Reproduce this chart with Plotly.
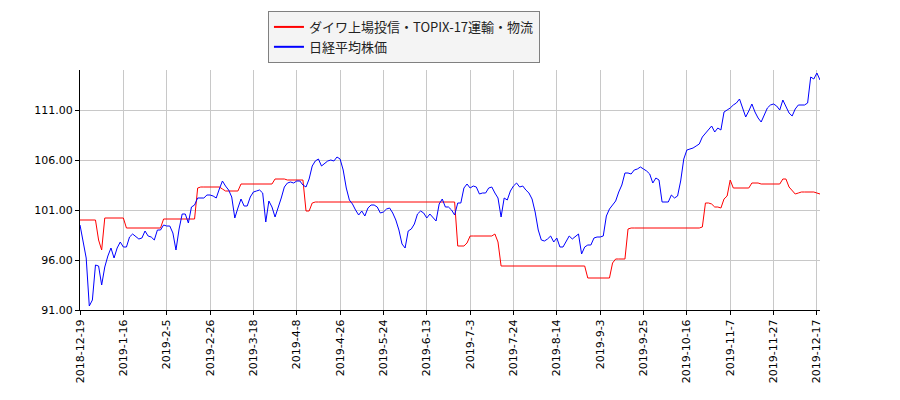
import pandas as pd
import plotly.graph_objs as go

# 東証の休場日 (営業日の並びを作るため)
holidays = ['2018-12-24', '2018-12-31', '2019-01-01', '2019-01-02', '2019-01-03',
            '2019-01-14', '2019-02-11', '2019-03-21', '2019-04-29', '2019-04-30',
            '2019-05-01', '2019-05-02', '2019-05-03', '2019-05-06', '2019-07-15',
            '2019-08-12', '2019-09-16', '2019-09-23', '2019-10-14', '2019-10-22',
            '2019-11-04']

days = pd.bdate_range('2018-12-19', '2019-12-18')
days = [d for d in days if d.strftime('%Y-%m-%d') not in holidays]
dates = [f'{d.year}-{d.month}-{d.day}' for d in days]

name_etf = 'ダイワ上場投信・TOPIX-17運輸・物流'
name_nikkei = '日経平均株価'

etf = [
    100.0, 100.0, 100.0, 100.0, 100.0, 100.0, 98.0, 97.0, 100.2, 100.2,
    100.2, 100.2, 100.2, 100.2, 100.2, 99.2, 99.2, 99.2, 99.2, 99.2,
    99.2, 99.2, 99.2, 99.2, 99.2, 99.2, 99.2, 100.1, 100.1, 100.1,
    100.1, 100.1, 100.1, 100.1, 100.1, 100.1, 100.1, 100.1, 103.2, 103.3,
    103.3, 103.3, 103.3, 103.3, 103.3, 103.3, 103.1, 102.9, 102.9, 102.9,
    102.9, 102.9, 103.6, 103.6, 103.6, 103.6, 103.6, 103.6, 103.6, 103.6,
    103.6, 103.6, 103.6, 104.1, 104.1, 104.1, 104.1, 104.0, 104.0, 104.0,
    104.0, 104.0, 104.0, 100.9, 100.9, 101.7, 101.8, 101.8, 101.8, 101.8,
    101.8, 101.8, 101.8, 101.8, 101.8, 101.8, 101.8, 101.8, 101.8, 101.8,
    101.8, 101.8, 101.8, 101.8, 101.8, 101.8, 101.8, 101.8, 101.8, 101.8,
    101.8, 101.8, 101.8, 101.8, 101.8, 101.8, 101.8, 101.8, 101.8, 101.8,
    101.8, 101.8, 101.8, 101.8, 101.8, 101.8, 101.8, 101.8, 101.8, 101.8,
    101.8, 101.8, 97.4, 97.4, 97.4, 97.7, 98.4, 98.4, 98.4, 98.4,
    98.4, 98.4, 98.4, 98.4, 98.6, 97.8, 95.4, 95.4, 95.4, 95.4,
    95.4, 95.4, 95.4, 95.4, 95.4, 95.4, 95.4, 95.4, 95.4, 95.4,
    95.4, 95.4, 95.4, 95.4, 95.4, 95.4, 95.4, 95.4, 95.4, 95.4,
    95.4, 95.4, 95.4, 95.4, 94.2, 94.2, 94.2, 94.2, 94.2, 94.2,
    94.2, 94.2, 95.7, 96.1, 96.1, 96.1, 96.1, 99.1, 99.2, 99.2,
    99.2, 99.2, 99.2, 99.2, 99.2, 99.2, 99.2, 99.2, 99.2, 99.2,
    99.2, 99.2, 99.2, 99.2, 99.2, 99.2, 99.2, 99.2, 99.2, 99.2,
    99.2, 99.3, 101.7, 101.7, 101.6, 101.3, 101.3, 101.2, 102.1, 102.4,
    104.0, 103.2, 103.2, 103.2, 103.2, 103.2, 103.2, 103.7, 103.7, 103.7,
    103.6, 103.6, 103.6, 103.6, 103.6, 103.6, 103.6, 104.1, 104.1, 103.3,
    102.9, 102.6, 102.7, 102.8, 102.8, 102.8, 102.8, 102.8, 102.7, 102.6,
]

nikkei = [
    99.5, 97.7, 96.2, 91.4, 92.0, 95.5, 95.4, 93.5, 95.3, 96.4,
    97.2, 96.2, 97.2, 97.8, 97.3, 97.3, 98.3, 98.6, 98.3, 98.1,
    98.2, 98.9, 98.4, 98.3, 98.0, 99.0, 99.0, 99.5, 99.4, 99.4,
    98.7, 97.0, 99.1, 100.6, 100.6, 99.7, 101.3, 101.5, 102.2, 102.2,
    102.2, 102.5, 102.5, 102.4, 102.2, 103.1, 103.9, 103.4, 103.0, 102.3,
    100.2, 101.2, 102.1, 101.4, 101.4, 102.3, 102.8, 102.9, 103.0, 102.7,
    99.8, 101.9, 101.3, 100.3, 101.2, 102.2, 103.3, 103.7, 103.8, 103.7,
    103.9, 103.9, 103.5, 103.3, 104.1, 105.4, 105.9, 106.1, 105.4, 105.7,
    105.9, 106.0, 105.9, 106.3, 106.1, 105.0, 103.2, 102.0, 101.6, 101.0,
    100.5, 100.9, 100.4, 101.2, 101.5, 101.5, 101.3, 100.7, 100.8, 101.1,
    101.2, 100.7, 100.0, 99.0, 97.6, 97.2, 98.9, 99.1, 99.6, 100.6,
    100.9, 100.7, 100.2, 100.6, 100.2, 99.9, 101.6, 102.1, 101.3, 101.3,
    101.0, 100.5, 101.7, 101.7, 103.2, 103.6, 103.2, 103.4, 103.3, 102.6,
    102.7, 102.7, 103.2, 103.3, 102.7, 102.2, 100.3, 102.2, 102.0, 102.9,
    103.4, 103.7, 103.3, 103.4, 103.0, 102.7, 102.1, 100.8, 99.0, 98.0,
    97.9, 98.1, 98.4, 97.8, 98.2, 97.3, 97.3, 97.8, 98.4, 98.1,
    98.4, 98.6, 96.6, 97.3, 97.5, 97.5, 98.2, 98.3, 98.3, 98.4,
    100.4, 101.1, 101.5, 101.9, 102.8, 103.5, 104.7, 104.7, 104.6, 105.0,
    105.1, 105.3, 105.1, 104.9, 104.6, 103.7, 104.2, 104.0, 101.8, 101.8,
    101.8, 102.5, 102.2, 102.4, 103.9, 106.1, 107.0, 107.1, 107.2, 107.4,
    107.6, 108.3, 108.7, 109.0, 109.4, 108.8, 109.2, 109.0, 110.8, 111.0,
    111.2, 111.5, 111.7, 112.1, 111.2, 110.3, 110.9, 111.6, 110.8, 110.2,
    109.8, 110.5, 111.2, 111.5, 111.6, 111.4, 111.0, 112.0, 111.4, 110.7,
    110.4, 111.1, 111.5, 111.5, 111.5, 111.7, 114.3, 114.1, 114.7, 114.0,
]

y_ticks = [91, 96, 101, 106, 111]

fig = go.Figure()
fig.add_trace(go.Scatter(x=dates, y=etf, name=name_etf, mode='lines',
                         line=dict(color='#ff0000', width=1), showlegend=False))
fig.add_trace(go.Scatter(x=dates, y=nikkei, name=name_nikkei, mode='lines',
                         line=dict(color='#0000ff', width=1), showlegend=False))
# 凡例用 (線を少し太く)
fig.add_trace(go.Scatter(x=[None], y=[None], name=name_etf, mode='lines',
                         line=dict(color='#ff0000', width=2)))
fig.add_trace(go.Scatter(x=[None], y=[None], name=name_nikkei, mode='lines',
                         line=dict(color='#0000ff', width=2)))

# ページ本体の余白(8px)ぶん小さくして位置を合わせる
fig.update_layout(
    width=892, height=392,
    margin=dict(l=72, r=80, t=62, b=90, autoexpand=False),
    plot_bgcolor='white', paper_bgcolor='white',
    font=dict(family='DejaVu Sans', size=11, color='black'),
    showlegend=True,
    legend=dict(x=0.254, y=1.246, xanchor='left', yanchor='top',
                bgcolor='#f4f4f4', bordercolor='#808080', borderwidth=1,
                font=dict(family='Noto Sans CJK JP', size=13, color='#222222'),
                tracegroupgap=0),
)
fig.update_xaxes(type='category', range=[0, len(dates) - 1],
                 tickvals=dates[::14], ticktext=dates[::14], tickangle=-90,
                 showgrid=True, gridcolor='#c8c8c8', gridwidth=1,
                 showline=True, linecolor='black', linewidth=1,
                 ticks='outside', ticklen=4, tickcolor='black')
fig.update_yaxes(range=[91, 115], tickvals=y_ticks,
                 ticktext=[f'{v:.2f}' for v in y_ticks],
                 showgrid=True, gridcolor='#c8c8c8', gridwidth=1,
                 showline=True, linecolor='black', linewidth=1,
                 ticks='outside', ticklen=4, tickcolor='black', zeroline=False)

fig.write_html('out.html')
